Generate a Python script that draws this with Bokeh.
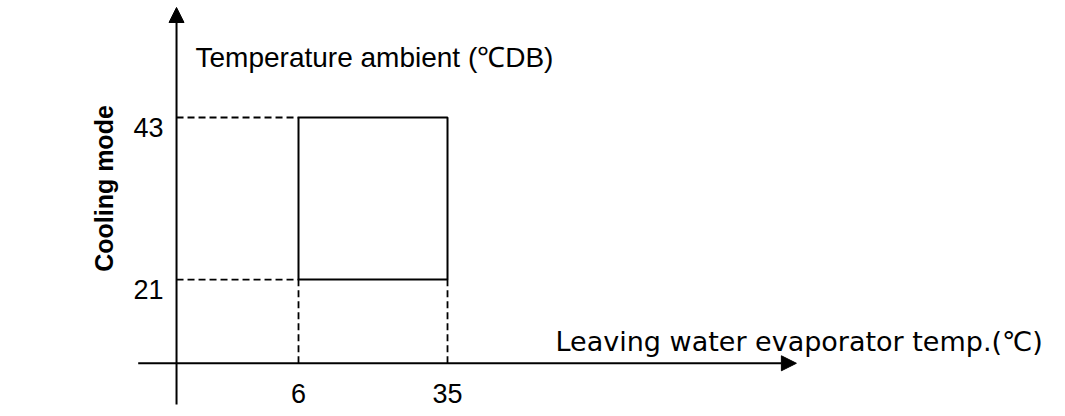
import math
from bokeh.plotting import figure
from bokeh.models import Arrow, NormalHead, Range1d
from bokeh.core.properties import value
from bokeh.embed import file_html
from bokeh.resources import INLINE

# ---- data ----
x_ticks = [6, 35]
y_ticks = [21, 43]
x_tick_labels = ["6", "35"]
y_tick_labels = ["21", "43"]
x_title = "Leaving water evaporator temp.(℃)"
y_title = "Temperature ambient (℃DB)"
side_title = "Cooling mode"

# ---- layout (schematic) ----
W, H = 1057, 408
X0 = -17.74         # where the vertical axis sits
Y0 = 9.63           # where the horizontal axis sits
FONT = value("Liberation Sans")
WIDE = value("DejaVu Sans")

p = figure(width=W, height=H, output_backend="svg", toolbar_location=None,
           x_range=Range1d(-52.0, 153.72), y_range=Range1d(3.49, 58.89),
           x_axis_location=None, y_axis_location=None, min_border=0)
p.outline_line_color = None
p.grid.visible = False
p.background_fill_color = "white"
p.border_fill_color = "white"

# axes with arrows
p.add_layout(Arrow(end=NormalHead(size=15, fill_color="black", line_color="black", line_width=1),
                   x_start=-25.2, y_start=Y0, x_end=102.9, y_end=Y0,
                   line_color="black", line_width=2))
p.add_layout(Arrow(end=NormalHead(size=15, fill_color="black", line_color="black", line_width=1),
                   x_start=X0, y_start=4.03, x_end=X0, y_end=57.94,
                   line_color="black", line_width=2))

# operating range box
p.quad(left=[x_ticks[0]], right=[x_ticks[1]], bottom=[y_ticks[0]], top=[y_ticks[1]],
       fill_alpha=0, line_color="black", line_width=2)

# dashed guide lines
p.segment(x0=[X0] * len(y_ticks), y0=y_ticks, x1=[x_ticks[0]] * len(y_ticks), y1=y_ticks,
          line_color="black", line_width=1.8, line_dash="7 4")
p.segment(x0=x_ticks, y0=[Y0] * len(x_ticks), x1=x_ticks, y1=[y_ticks[0]] * len(x_ticks),
          line_color="black", line_width=1.8, line_dash="7 4")

# tick labels
p.text(x=[X0] * len(y_ticks), y=y_ticks, text=y_tick_labels, x_offset=-13, y_offset=10,
       text_align="right", text_baseline="alphabetic", text_font=FONT,
       text_font_size="27px", text_color="black")
p.text(x=x_ticks, y=[Y0] * len(x_ticks), text=x_tick_labels, y_offset=30,
       text_align="center", text_baseline="alphabetic", text_font=FONT,
       text_font_size="27px", text_color="black")

# titles
p.text(x=[X0], y=[51.15], text=[y_title], x_offset=19, text_align="left",
       text_baseline="alphabetic", text_font=FONT, text_font_size="28px", text_color="black")
p.text(x=[56.02], y=[12.58], text=[x_title], text_align="left",
       text_baseline="alphabetic", text_font=WIDE, text_font_size="27px", text_color="black")
p.text(x=[-31.95], y=[33.36], text=[side_title], angle=math.pi / 2, text_align="center",
       text_baseline="middle", text_font=FONT, text_font_size="25px",
       text_font_style="bold", text_color="black")

open("out.html", "w").write(file_html(p, INLINE))
